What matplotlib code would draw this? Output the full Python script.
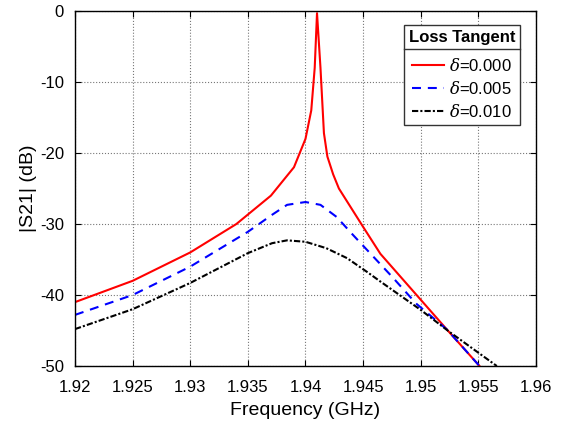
import numpy as np
import matplotlib
matplotlib.use('Agg')
import matplotlib.pyplot as plt
from matplotlib.lines import Line2D

plt.rcParams['font.family'] = ['Liberation Sans', 'DejaVu Sans']
plt.rcParams['mathtext.fontset'] = 'dejavuserif'
plt.rcParams['axes.unicode_minus'] = False

# delta = 0.000
f0 = [1.92, 1.925, 1.93, 1.934, 1.937, 1.939, 1.94, 1.9405, 1.9408, 1.941,
      1.9413, 1.9416, 1.9419, 1.9424, 1.9429, 1.945, 1.9465, 1.9524, 1.9551]
s0 = [-41, -38, -34, -30, -26, -22, -18, -14, -8, -0.3,
      -8, -17.2, -20.5, -23, -25, -30.4, -34.2, -45.1, -50]

# delta = 0.005
f1 = [1.92, 1.925, 1.93, 1.935, 1.9371, 1.9384, 1.94, 1.9413, 1.9427, 1.9441,
      1.9456, 1.9475, 1.9496, 1.9523, 1.9551]
s1 = [-42.8, -40, -36, -31.1, -28.7, -27.3, -26.9, -27.3, -29, -31.5,
      -34.1, -37.4, -41.2, -44.9, -50]

# delta = 0.010
f2 = [1.92, 1.925, 1.93, 1.935, 1.9371, 1.9384, 1.94, 1.9418, 1.9436, 1.9453,
      1.9465, 1.95, 1.9525, 1.9566]
s2 = [-44.8, -42, -38.3, -34.1, -32.7, -32.3, -32.5, -33.4, -34.8, -36.7,
      -38.1, -42.1, -45.2, -50]

labels = [r'$\delta$=0.000', r'$\delta$=0.005', r'$\delta$=0.010']
xticks = [1.92, 1.925, 1.93, 1.935, 1.94, 1.945, 1.95, 1.955, 1.96]
xticklabels = ['1.92', '1.925', '1.93', '1.935', '1.94', '1.945', '1.95', '1.955', '1.96']
yticks = [-50, -40, -30, -20, -10, 0]

fig = plt.figure(figsize=(5.61, 4.25), dpi=100)
ax = fig.add_axes([0.1337, 0.1388, 0.8217, 0.8352])

ax.plot(f0, s0, color='#ff0000', lw=1.5, ls='-', label=labels[0])
ax.plot(f1, s1, color='#0000ff', lw=1.5, ls=(0, (4.3, 3.3)), label=labels[1])
ax.plot(f2, s2, color='black', lw=1.5, ls=(0, (3, 1, 1, 1)), label=labels[2])

ax.set_xlim(1.92, 1.96)
ax.set_ylim(-50, 0)
ax.set_xticks(xticks)
ax.set_xticklabels(xticklabels)
ax.set_yticks(yticks)
ax.tick_params(direction='in', top=True, right=True, labelsize=12, length=4)
ax.tick_params(axis='x', pad=10)
ax.tick_params(axis='y', pad=8)
ax.grid(True, ls=':', color='#555555', lw=0.8, alpha=0.8)
for sp in ax.spines.values():
    sp.set_linewidth(1.0)
ax.set_xlabel('Frequency (GHz)', fontsize=14, labelpad=5)
ax.set_ylabel('|S21| (dB)', fontsize=14, labelpad=2)

leg = ax.legend(loc='upper right', bbox_to_anchor=(0.984, 0.983), title='Loss Tangent',
                fontsize=12, fancybox=False, edgecolor='#333333', framealpha=1,
                handlelength=1.9, borderpad=0.3, labelspacing=0.36, handletextpad=0.3)
leg.get_title().set_fontweight('bold')
leg.get_title().set_fontsize(12)
leg.get_frame().set_linewidth(1.0)
leg._legend_box.sep = 8

# separator line under the legend title
fig.canvas.draw()
r = fig.canvas.get_renderer()
fb = leg.get_frame().get_window_extent(r)
tb = leg.get_title().get_window_extent(r)
yl = tb.y0 - 4
inv = fig.transFigure.inverted()
(x0, y0), (x1, _) = inv.transform([(fb.x0, yl), (fb.x1, yl)])
fig.add_artist(Line2D([x0, x1], [y0, y0], transform=fig.transFigure,
                      color='#333333', lw=1.0))

fig.savefig('out.png', dpi=100)
